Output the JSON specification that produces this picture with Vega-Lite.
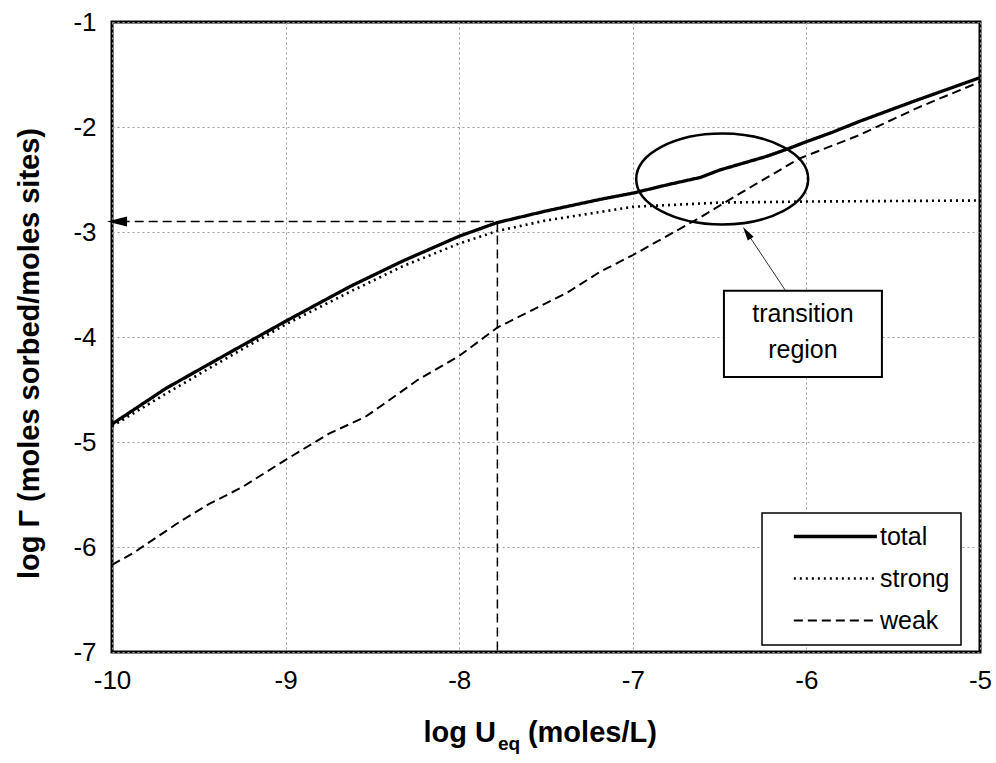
{
  "$schema": "https://vega.github.io/schema/vega-lite/v6.json",
  "width": 868,
  "height": 630,
  "autosize": {"type": "none"},
  "padding": {"left": 112, "top": 22, "right": 16, "bottom": 111},
  "background": "white",
  "config": {
    "view": {"stroke": "black", "strokeWidth": 3, "fill": "white"},
    "font": "Liberation Sans",
    "axis": {
      "domain": false,
      "grid": true,
      "gridColor": "#9a9a9a",
      "gridDash": [2, 3],
      "gridWidth": 1,
      "ticks": false,
      "labelFont": "Liberation Sans",
      "labelFontSize": 26,
      "labelColor": "black",
      "titleFont": "Liberation Sans",
      "titleFontWeight": "bold",
      "titleFontSize": 29,
      "titleColor": "black"
    },
    "legend": {
      "orient": "none",
      "legendX": 650,
      "legendY": 491,
      "strokeColor": "black",
      "strokeWidth": 1.5,
      "fillColor": "white",
      "padding": 11,
      "symbolType": "M -7 0 L 1 0",
      "symbolSize": 431,
      "symbolStrokeColor": "black",
      "symbolOffset": 81,
      "labelFont": "Liberation Sans",
      "labelFontSize": 25,
      "labelColor": "black",
      "labelOffset": 1,
      "rowPadding": 16
    }
  },
  "datasets": {
    "curves": [
      {"series": "total", "logU": -10.0, "logG": -4.83},
      {"series": "total", "logU": -9.69, "logG": -4.49},
      {"series": "total", "logU": -9.4, "logG": -4.22},
      {"series": "total", "logU": -9.0, "logG": -3.85},
      {"series": "total", "logU": -8.63, "logG": -3.52},
      {"series": "total", "logU": -8.33, "logG": -3.28},
      {"series": "total", "logU": -8.0, "logG": -3.04},
      {"series": "total", "logU": -7.78, "logG": -2.91},
      {"series": "total", "logU": -7.5, "logG": -2.8},
      {"series": "total", "logU": -7.19, "logG": -2.69},
      {"series": "total", "logU": -7.0, "logG": -2.63},
      {"series": "total", "logU": -6.8, "logG": -2.55},
      {"series": "total", "logU": -6.61, "logG": -2.48},
      {"series": "total", "logU": -6.5, "logG": -2.41},
      {"series": "total", "logU": -6.23, "logG": -2.28},
      {"series": "total", "logU": -6.11, "logG": -2.21},
      {"series": "total", "logU": -6.0, "logG": -2.14},
      {"series": "total", "logU": -5.85, "logG": -2.05},
      {"series": "total", "logU": -5.7, "logG": -1.95},
      {"series": "total", "logU": -5.39, "logG": -1.76},
      {"series": "total", "logU": -5.0, "logG": -1.53},
      {"series": "strong", "logU": -10.0, "logG": -4.85},
      {"series": "strong", "logU": -9.69, "logG": -4.54},
      {"series": "strong", "logU": -9.4, "logG": -4.26},
      {"series": "strong", "logU": -9.0, "logG": -3.88},
      {"series": "strong", "logU": -8.63, "logG": -3.57},
      {"series": "strong", "logU": -8.33, "logG": -3.33},
      {"series": "strong", "logU": -8.0, "logG": -3.11},
      {"series": "strong", "logU": -7.78, "logG": -2.99},
      {"series": "strong", "logU": -7.5, "logG": -2.89},
      {"series": "strong", "logU": -7.19, "logG": -2.81},
      {"series": "strong", "logU": -7.0, "logG": -2.76},
      {"series": "strong", "logU": -6.5, "logG": -2.72},
      {"series": "strong", "logU": -6.0, "logG": -2.71},
      {"series": "strong", "logU": -5.5, "logG": -2.705},
      {"series": "strong", "logU": -5.0, "logG": -2.7},
      {"series": "weak", "logU": -10.0, "logG": -6.17},
      {"series": "weak", "logU": -9.88, "logG": -6.06},
      {"series": "weak", "logU": -9.61, "logG": -5.76},
      {"series": "weak", "logU": -9.44, "logG": -5.59},
      {"series": "weak", "logU": -9.25, "logG": -5.43},
      {"series": "weak", "logU": -9.0, "logG": -5.17},
      {"series": "weak", "logU": -8.75, "logG": -4.92},
      {"series": "weak", "logU": -8.54, "logG": -4.76},
      {"series": "weak", "logU": -8.35, "logG": -4.54},
      {"series": "weak", "logU": -8.24, "logG": -4.41},
      {"series": "weak", "logU": -8.0, "logG": -4.18},
      {"series": "weak", "logU": -7.78, "logG": -3.91},
      {"series": "weak", "logU": -7.38, "logG": -3.58},
      {"series": "weak", "logU": -7.19, "logG": -3.38},
      {"series": "weak", "logU": -7.0, "logG": -3.22},
      {"series": "weak", "logU": -6.61, "logG": -2.86},
      {"series": "weak", "logU": -6.38, "logG": -2.63},
      {"series": "weak", "logU": -6.04, "logG": -2.3},
      {"series": "weak", "logU": -5.7, "logG": -2.08},
      {"series": "weak", "logU": -5.35, "logG": -1.81},
      {"series": "weak", "logU": -5.0, "logG": -1.57}
    ]
  },
  "encoding": {
    "x": {
      "field": "logU", "type": "quantitative",
      "scale": {"domain": [-10, -5], "nice": false, "zero": false},
      "axis": {"title": null, "values": [-10, -9, -8, -7, -6, -5], "labelExpr": "datum.value + ''", "labelPadding": 15, "labelFlush": false}
    },
    "y": {
      "field": "logG", "type": "quantitative",
      "scale": {"domain": [-7, -1], "nice": false, "zero": false},
      "axis": {
        "title": "log Γ (moles sorbed/moles sites)",
        "values": [-7, -6, -5, -4, -3, -2, -1],
        "labelExpr": "datum.value + ''",
        "labelPadding": 16,
        "labelFlush": false,
        "titleBaseline": "middle",
        "titleAngle": -90,
        "titleX": -83,
        "titleY": 331
      }
    }
  },
  "layer": [
    {
      "data": {"name": "curves"},
      "mark": {"type": "line", "color": "black", "interpolate": "linear", "strokeCap": "butt"},
      "encoding": {
        "strokeDash": {
          "field": "series", "type": "nominal",
          "scale": {"domain": ["total", "strong", "weak"], "range": [[1, 0], [2, 4], [9, 5]]},
          "legend": {"title": null, "labelExpr": "datum.label + '  '"}
        },
        "strokeWidth": {
          "field": "series", "type": "nominal",
          "scale": {"domain": ["total", "strong", "weak"], "range": [3.3, 2, 2.3]},
          "legend": {"title": null, "labelExpr": "datum.label + '  '"}
        }
      }
    },
    {
      "data": {"values": [
        {"part": "horizontal", "logU": -9.95, "logG": -2.9, "logU2": -7.78, "logG2": -2.9},
        {"part": "vertical", "logU": -7.78, "logG": -2.9, "logU2": -7.78, "logG2": -7.0}
      ]},
      "mark": {"type": "rule", "color": "black", "strokeWidth": 1.5, "strokeDash": [9, 5]},
      "encoding": {
        "x2": {"field": "logU2"},
        "y2": {"field": "logG2"}
      }
    },
    {
      "data": {"values": [{"logU": -9.971, "logG": -2.9}]},
      "mark": {"type": "point", "shape": "M -1 0 L 1 -0.5 L 1 0.5 Z", "size": 400, "filled": true, "color": "black", "opacity": 1}
    },
    {
      "data": {"values": [{"logU": -6.485, "logG": -2.495}]},
      "mark": {"type": "point", "shape": "M -1 0 A 1 0.529 0 1 1 1 0 A 1 0.529 0 1 1 -1 0 Z", "size": 29584, "filled": false, "color": "black", "strokeWidth": 2.5, "opacity": 1}
    },
    {
      "data": {"values": [{"logU": -6.123, "logG": -3.552, "logU2": -6.349, "logG2": -2.99}]},
      "mark": {"type": "rule", "color": "#333333", "strokeWidth": 1},
      "encoding": {
        "x2": {"field": "logU2"},
        "y2": {"field": "logG2"}
      }
    },
    {
      "data": {"values": [{"logU": -6.343, "logG": -3.008}]},
      "mark": {"type": "point", "shape": "M 0 -1 L 0.5 1 L -0.5 1 Z", "size": 196, "angle": -33.7, "filled": true, "color": "black", "opacity": 1}
    },
    {
      "data": {"values": [{"logU": -6.475, "logU2": -5.565, "logG": -3.56, "logG2": -4.38}]},
      "mark": {"type": "rect", "fill": "white", "stroke": "black", "strokeWidth": 2},
      "encoding": {
        "x2": {"field": "logU2"},
        "y2": {"field": "logG2"}
      }
    },
    {
      "data": {"values": [
        {"label": "transition", "logU": -6.02, "logG": -3.78},
        {"label": "region", "logU": -6.02, "logG": -4.12}
      ]},
      "mark": {"type": "text", "font": "Liberation Sans", "fontSize": 25, "color": "black", "align": "center", "baseline": "middle"},
      "encoding": {
        "text": {"field": "label"}
      }
    },
    {
      "data": {"values": [
        {"part": "log U", "logU": -7.535, "logG": -7.857}
      ]},
      "mark": {"type": "text", "font": "Liberation Sans", "fontWeight": "bold", "fontSize": 29, "color": "black", "align": "right", "baseline": "alphabetic", "dx": -44},
      "encoding": {
        "text": {"field": "part"}
      }
    },
    {
      "data": {"values": [
        {"part": "eq", "logU": -7.535, "logG": -7.857}
      ]},
      "mark": {"type": "text", "font": "Liberation Sans", "fontWeight": "bold", "fontSize": 19, "color": "black", "align": "left", "baseline": "alphabetic", "dx": -42, "dy": 8},
      "encoding": {
        "text": {"field": "part"}
      }
    },
    {
      "data": {"values": [
        {"part": "(moles/L)", "logU": -7.535, "logG": -7.857}
      ]},
      "mark": {"type": "text", "font": "Liberation Sans", "fontWeight": "bold", "fontSize": 29, "color": "black", "align": "left", "baseline": "alphabetic", "dx": -12},
      "encoding": {
        "text": {"field": "part"}
      }
    }
  ]
}
